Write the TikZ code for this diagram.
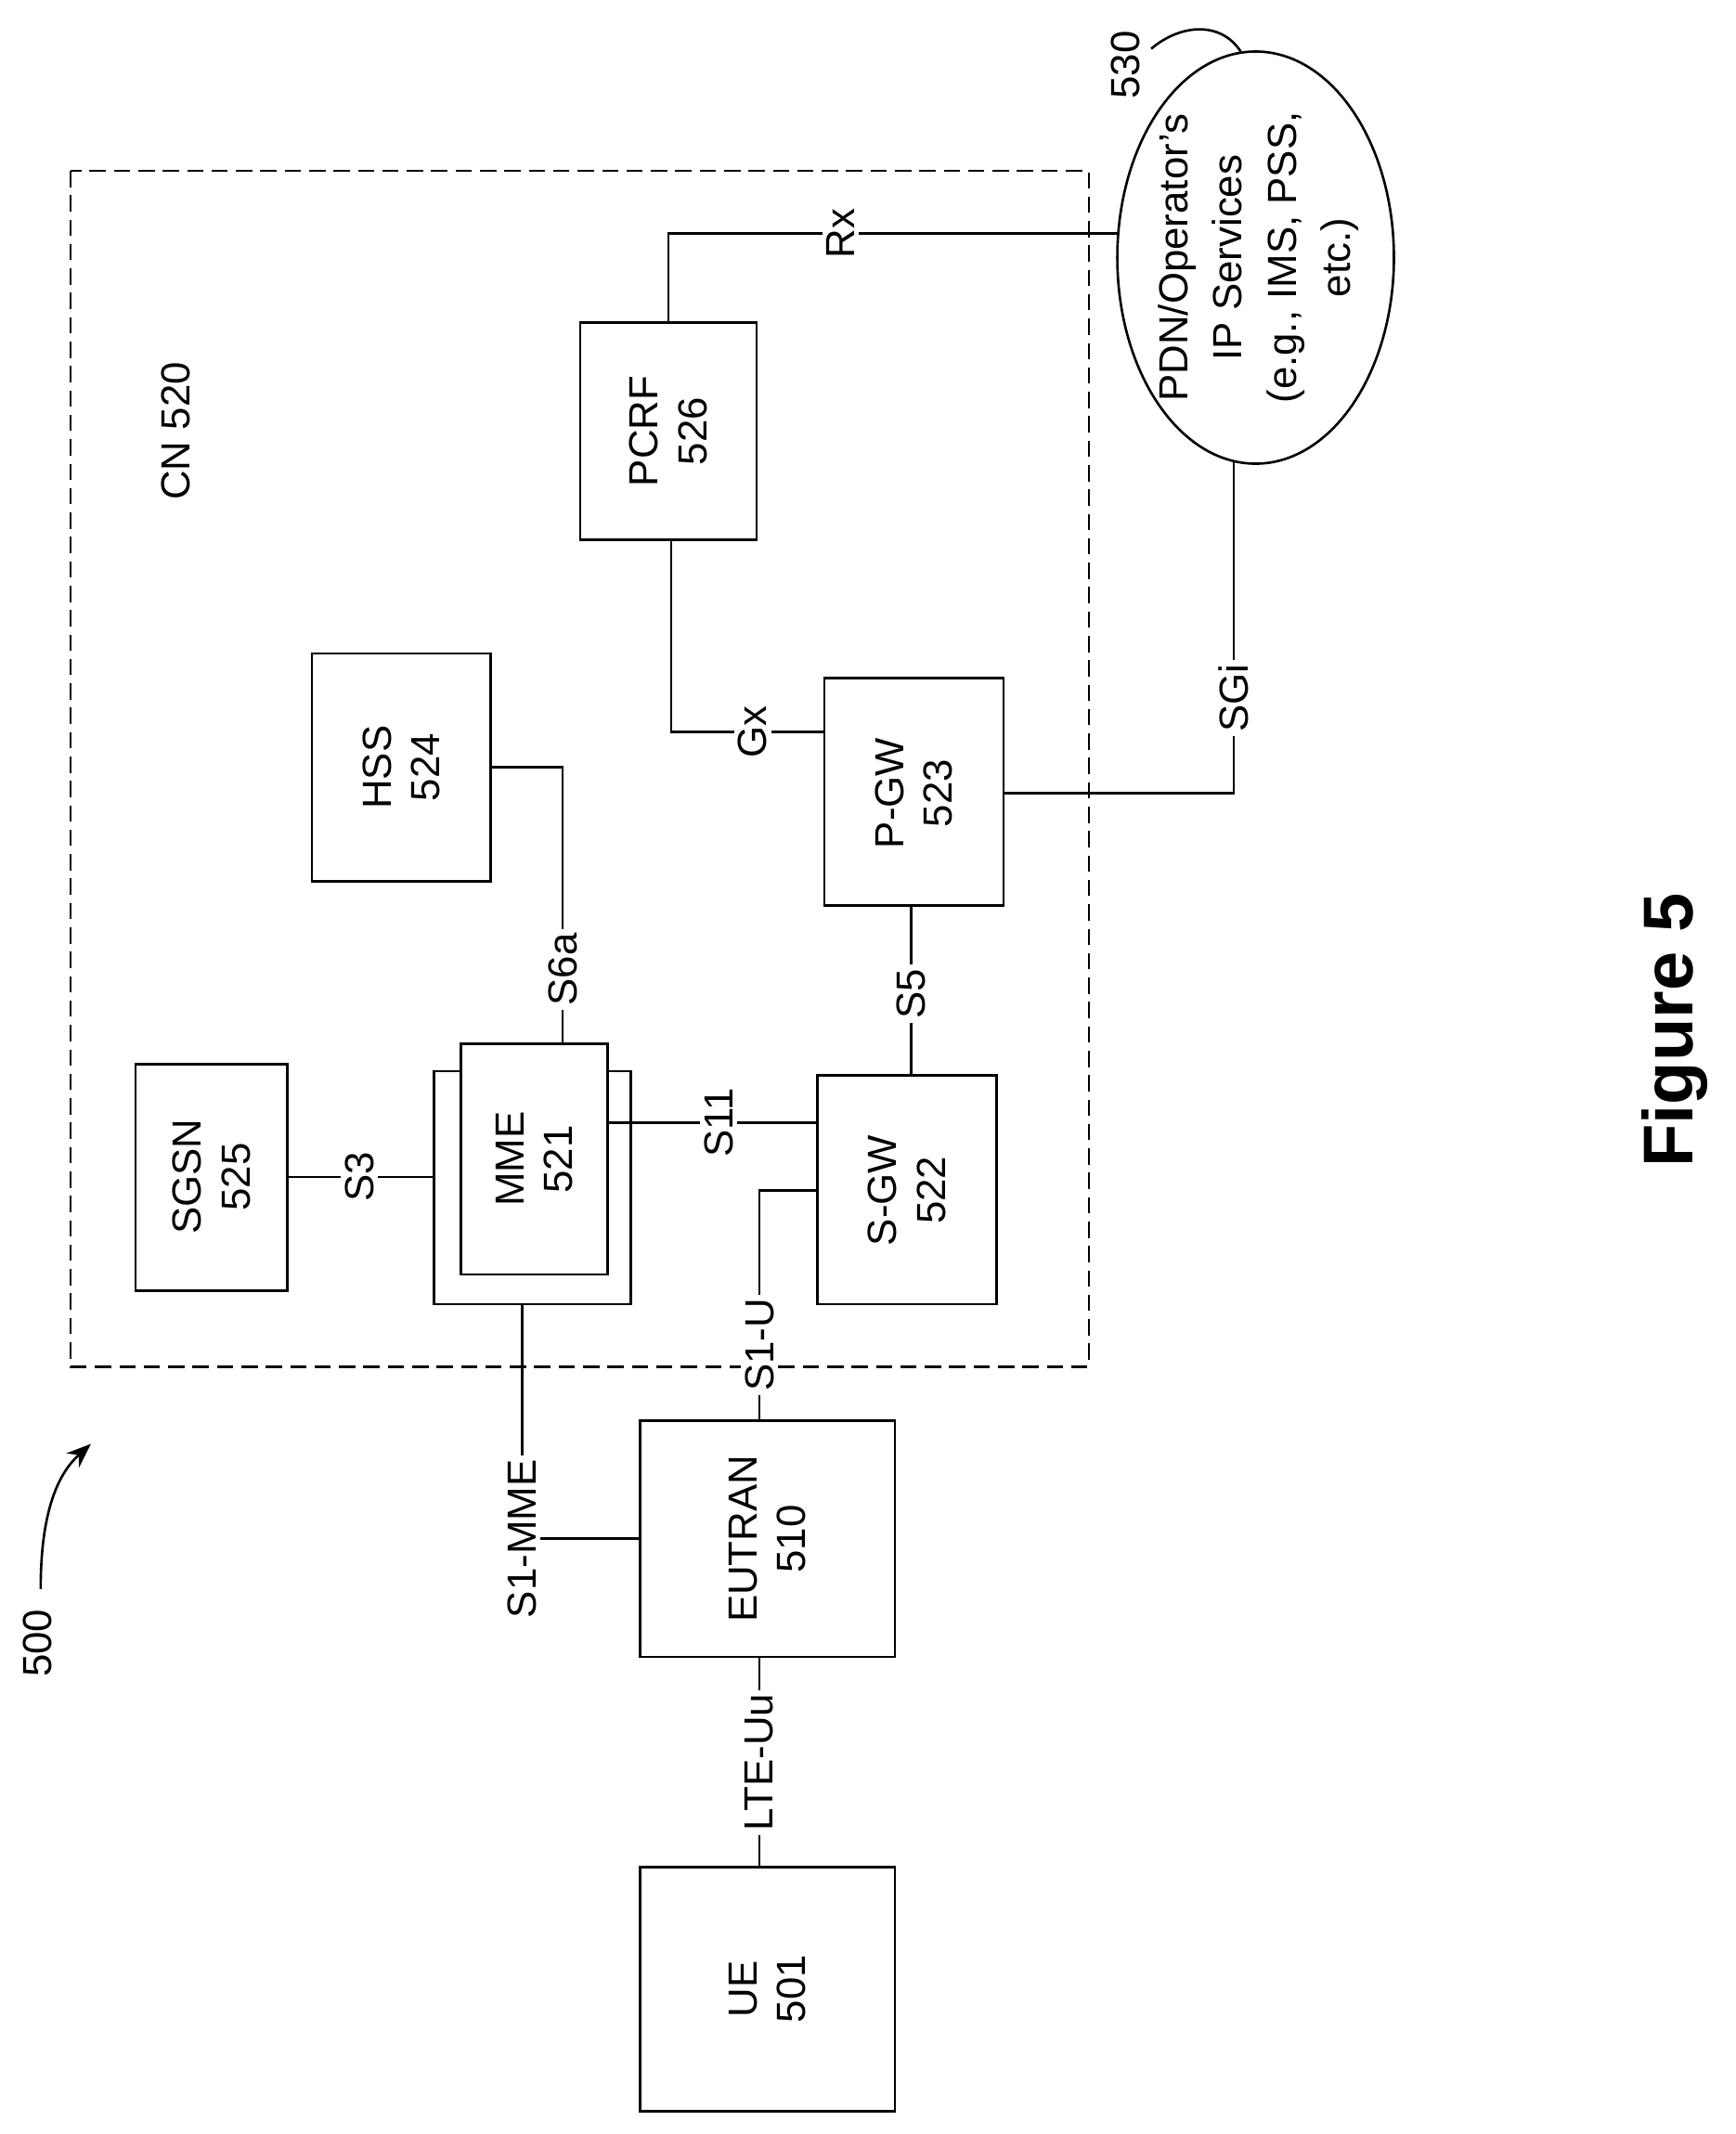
\documentclass[tikz,border=0pt]{standalone}
\usepackage{fontspec}
\setmainfont{Liberation Sans}
\usetikzlibrary{arrows.meta}
\begin{document}
\begin{tikzpicture}[x=0.5pt,y=-0.5pt,line width=0.9pt,
  lbl/.style={fill=white,inner sep=1.5pt,rotate=90,font=\fontsize{15}{18}\selectfont},
  txt/.style={rotate=90,align=center,font=\fontsize{15}{18}\selectfont}]
\useasboundingbox (0,0) rectangle (1280,1574);
\draw[dash pattern=on 6pt off 3pt] (52,126) rectangle (803,1008);
\draw[fill=white] (472,1377) rectangle (660,1557); \node[txt] (ue) at (566,1467) {UE\\501};
\draw[fill=white] (472,1048) rectangle (660,1222); \node[txt] (eutran) at (566,1135) {EUTRAN\\510};
\draw[fill=white] (100,785) rectangle (212,952); \node[txt] (sgsn) at (156,868) {SGSN\\525};
\draw[fill=white] (320,790) rectangle (465,962);
\draw[fill=white] (340,770) rectangle (448,940); \node[txt] (mme) at (394,855) {MME\\521};
\draw[fill=white] (603,793) rectangle (735,962); \node[txt] (sgw) at (669,878) {S-GW\\522};
\draw[fill=white] (608,500) rectangle (740,668); \node[txt] (pgw) at (674,585) {P-GW\\523};
\draw[fill=white] (230,482) rectangle (362,650); \node[txt] (hss) at (296,566) {HSS\\524};
\draw[fill=white] (428,238) rectangle (558,398); \node[txt] (pcrf) at (493,318) {PCRF\\526};
\draw[fill=white] (926,190) ellipse (102 and 152);
\node[rotate=90,align=center,font=\fontsize{15}{20}\selectfont] (pdn) at (928,190) {PDN/Operator's\\IP Services\\(e.g., IMS, PSS,\\etc.)};
\draw (560,1222) -- (560,1377); \node[lbl] at (560,1300) {LTE-Uu};
\coordinate (a1) at (385,1135); \coordinate (a2) at (385,962);
\draw (472,1135) -- (a1) -- (a2); \node[lbl] at (385,1135) {S1-MME};
\draw (560,1048) -- (560,878) -- (603,878); \node[lbl] at (560,992) {S1-U};
\draw (212,868) -- (320,868); \node[lbl] at (265,868) {S3};
\draw (448,828) -- (603,828); \node[lbl] at (530,828) {S11};
\draw (672,793) -- (672,668); \node[lbl] at (672,733) {S5};
\draw (415,770) -- (415,566) -- (362,566); \node[lbl] at (415,715) {S6a};
\draw (608,540) -- (495,540) -- (495,398); \node[lbl] at (555,540) {Gx};
\draw (493,238) -- (493,172) -- (825,172); \node[lbl] at (620,172) {Rx};
\draw (740,585) -- (910,585) -- (910,341); \node[lbl] at (910,515) {SGi};
\node[txt] (n530) at (830,48) {530};
\draw (849,36) .. controls (870,18) and (900,15) .. (915,38);
\node[txt] (n520) at (130,318) {CN 520};
\node[txt] (n500) at (28,1212) {500};
\draw[-{Stealth[length=9pt,width=7pt]}] (30,1172) .. controls (30,1110) and (45,1085) .. (67,1065);
\node[rotate=90,font=\bfseries\fontsize{26}{30}\selectfont] (fig) at (1235,760) {Figure 5};
\end{tikzpicture}
\end{document}
